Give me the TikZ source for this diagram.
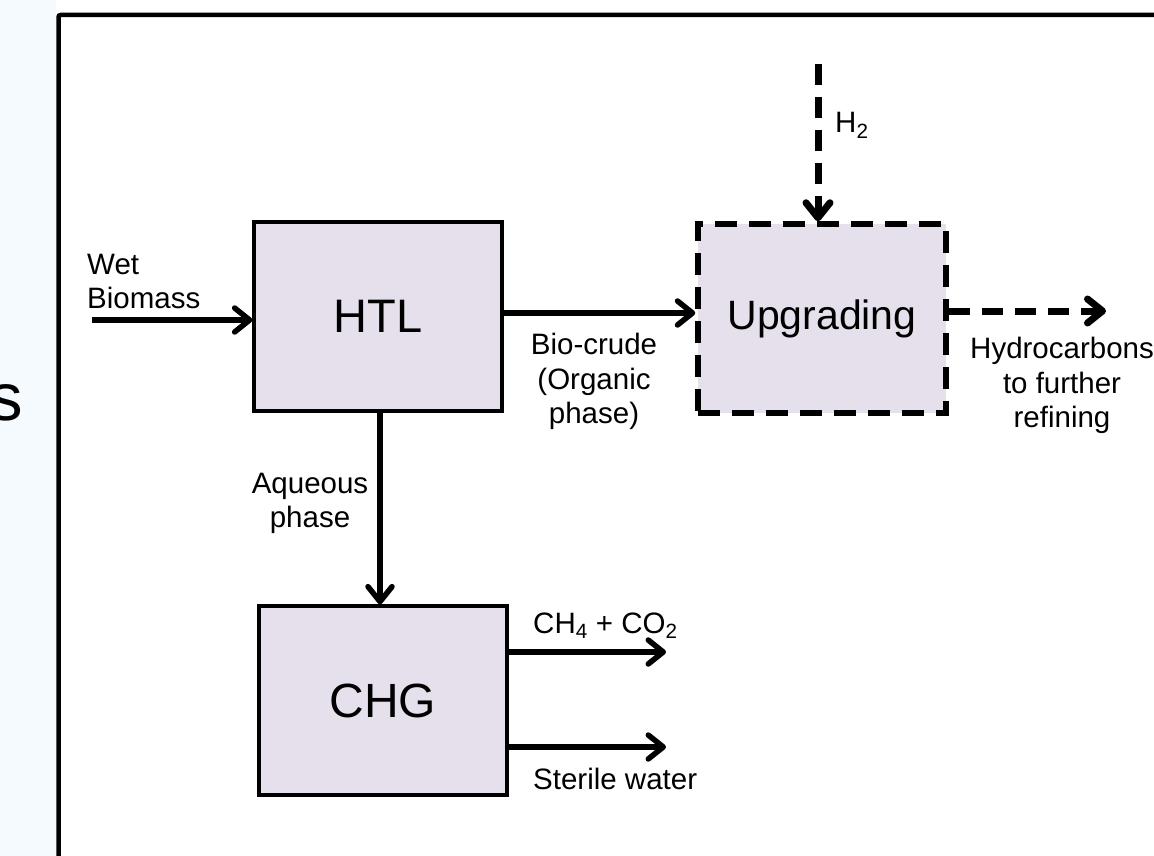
\documentclass[tikz,border=0pt]{standalone}
\usepackage{fontspec}
\setmainfont{Liberation Sans}
\usetikzlibrary{arrows.meta}
\definecolor{lav}{HTML}{E6E0EC}
\definecolor{strip}{HTML}{F5FAFF}
\tikzset{
  blockbox/.style={draw=black, line width=3.2pt, fill=lav, minimum width=248pt, minimum height=189pt, inner sep=0pt, font=\fontsize{47}{56}\selectfont},
  dashbox/.style={blockbox, line width=5.5pt, dash pattern=on 22pt off 12pt},
  tip/.style={-{Straight Barb[length=15pt,width=24pt,round]}},
  flow/.style={tip, line width=5.5pt},
  dflow/.style={tip, line width=7pt, dash pattern=on 21pt off 12pt},
  lbl/.style={inner sep=0pt, font=\fontsize{29.5}{34.5}\selectfont, align=center},
}
\begin{document}
\begin{tikzpicture}[x=1pt,y=-1pt]
\clip (0,0) rectangle (1154,856);
\fill[white] (0,0) rectangle (1154,856);
\fill[strip] (0,0) rectangle (56,856);
\node[anchor=base east, inner sep=0pt, font=\fontsize{67}{67}\selectfont] (s) at (23,420) {s};
\draw[line width=4.5pt, rounded corners=2pt] (1170,15) -- (58.5,15) -- (58.5,870);

\node[blockbox] (HTL) at (378,316.5) {HTL};
\node[dashbox, font=\fontsize{41}{50}\selectfont] (UPG) at (822,318.5) {Upgrading};
\node[blockbox, font=\fontsize{48}{56}\selectfont] (CHG) at (383,700.5) {CHG};

\coordinate (wet) at (92,320);
\coordinate (h2) at (818,64);
\coordinate (hc) at (1106,311);
\coordinate (aq) at (380,0);
\coordinate (gas) at (666,652);
\coordinate (wat) at (666,747);

\draw[flow] (wet) -- (wet -| HTL.west);
\draw[flow] ([yshift=3.5pt]HTL.east) -- ([yshift=5.5pt]UPG.west);
\draw[dflow] (h2) -- (h2 |- UPG.north);
\draw[dflow] (UPG.east |- hc) -- (hc);
\draw[flow] (HTL.south -| aq) -- (CHG.north -| aq);
\draw[flow] (CHG.east |- gas) -- (gas);
\draw[flow] (CHG.east |- wat) -- (wat);

\node[lbl, anchor=north west, align=left] (wetl) at (87,254) {Wet\\Biomass};
\node[lbl, anchor=north] (bio) at (594,333) {Bio-crude\\(Organic\\phase)};
\node[lbl, anchor=north west] (hcl) at (970,337) {Hydrocarbons\\to further\\refining};
\node[lbl, anchor=north] (aql) at (310,473) {Aqueous\\phase};
\node[lbl, anchor=base west] (h2l) at (835,133) {H\textsubscript{2}};
\node[lbl, anchor=base west] (gasl) at (533,633) {CH\textsubscript{4} + CO\textsubscript{2}};
\node[lbl, anchor=base west] (watl) at (533,789) {Sterile water};
\end{tikzpicture}
\end{document}
